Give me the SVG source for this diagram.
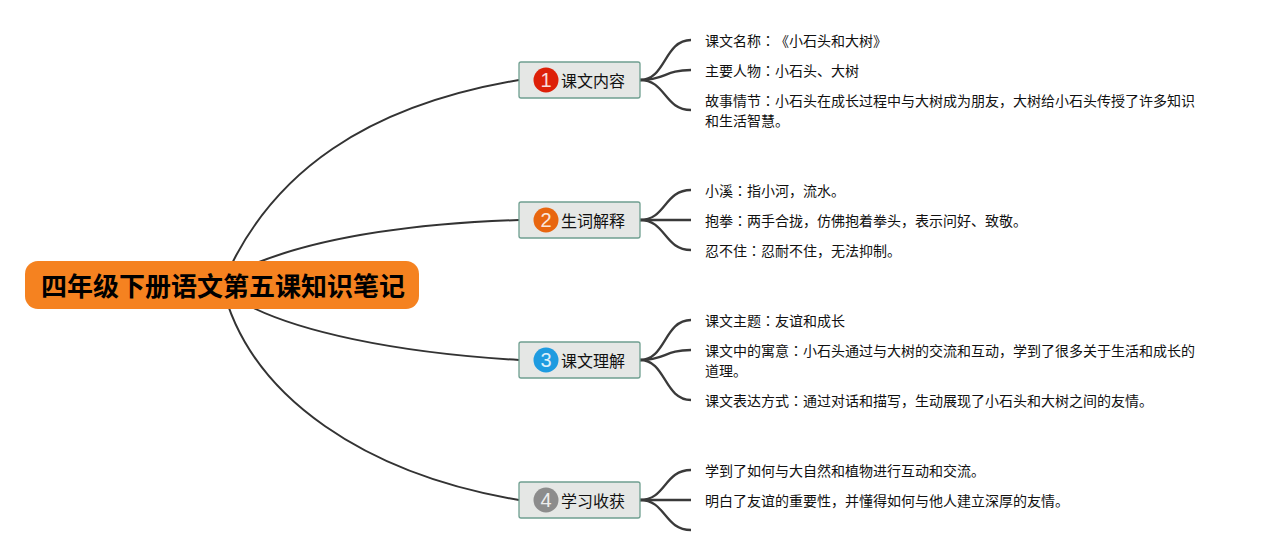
<svg xmlns="http://www.w3.org/2000/svg" width="1265" height="555" viewBox="0 0 1265 555">
<style>
text{font-family:"Noto Sans CJK SC","Liberation Sans",sans-serif;fill:#111;text-spacing-trim:space-all;font-feature-settings:"chws" 0}
.leaf{font-size:14px}
.lbl{font-size:16px}
.c{font-family:"Noto Sans CJK JP","Noto Sans CJK SC",sans-serif}
.num{font-family:"Liberation Sans",sans-serif;font-size:20px;fill:#fff;text-anchor:middle;opacity:.85}
.box{fill:#e5e7e5;stroke:#6f9f90;stroke-width:1.3}
.main{fill:none;stroke:#333;stroke-width:2}
.sub{fill:none;stroke:#3a3a3a;stroke-width:2.3}
</style>
<rect width="1265" height="555" fill="#fff"/>
<g id="connectors">
<path class="main" d="M222,285C270,170 370,105 519,80"/>
<path class="main" d="M240,270C305,240 400,224 519,220"/>
<path class="main" d="M235,298C290,332 400,353 519,360"/>
<path class="main" d="M222,285C250,400 370,475 519,500"/>
<path class="sub" d="M640,80C666,80 664,40 691,40"/>
<path class="sub" d="M640,80C666,80 664,70 691,70"/>
<path class="sub" d="M640,80C666,80 664,110 691,110"/>
<path class="sub" d="M640,220C666,220 664,190 691,190"/>
<path class="sub" d="M640,220C666,220 664,220 691,220"/>
<path class="sub" d="M640,220C666,220 664,250 691,250"/>
<path class="sub" d="M640,360C666,360 664,320 691,320"/>
<path class="sub" d="M640,360C666,360 664,350 691,350"/>
<path class="sub" d="M640,360C666,360 664,400 691,400"/>
<path class="sub" d="M640,500C666,500 664,470 691,470"/>
<path class="sub" d="M640,500C666,500 664,500 691,500"/>
<path class="sub" d="M640,500C666,500 664,530 691,530"/>
</g>
<g id="root">
<rect x="25" y="261" width="394" height="48" rx="13" fill="#f58220"/>
<text x="41" y="296" font-size="26" font-weight="700" style="fill:#000">四年级下册语文第五课知识笔记</text>
</g>
<g id="n1">
<rect class="box" x="519" y="62" width="121" height="36" rx="2"/>
<circle cx="546" cy="80" r="12.5" fill="#dd2008"/>
<text class="num" x="546" y="87">1</text>
<text class="lbl" x="561" y="87">课文内容</text>
</g>
<g id="n2">
<rect class="box" x="519" y="202" width="121" height="36" rx="2"/>
<circle cx="546" cy="220" r="12.5" fill="#e8660f"/>
<text class="num" x="546" y="227">2</text>
<text class="lbl" x="561" y="227">生词解释</text>
</g>
<g id="n3">
<rect class="box" x="519" y="342" width="121" height="36" rx="2"/>
<circle cx="546" cy="360" r="12.5" fill="#1e9be0"/>
<text class="num" x="546" y="367">3</text>
<text class="lbl" x="561" y="367">课文理解</text>
</g>
<g id="n4">
<rect class="box" x="519" y="482" width="121" height="36" rx="2"/>
<circle cx="546" cy="500" r="12.5" fill="#8c8c8c"/>
<text class="num" x="546" y="507">4</text>
<text class="lbl" x="561" y="507">学习收获</text>
</g>
<g id="l11"><text class="leaf" x="705" y="46">课文名称<tspan class="c">：</tspan>《小石头和大树》</text></g>
<g id="l12"><text class="leaf" x="705" y="76">主要人物<tspan class="c">：</tspan>小石头、大树</text></g>
<g id="l13"><text class="leaf" x="705" y="106">故事情节<tspan class="c">：</tspan>小石头在成长过程中与大树成为朋友，大树给小石头传授了许多知识</text><text class="leaf" x="705" y="126">和生活智慧。</text></g>
<g id="l21"><text class="leaf" x="705" y="196">小溪<tspan class="c">：</tspan>指小河，流水。</text></g>
<g id="l22"><text class="leaf" x="705" y="226">抱拳<tspan class="c">：</tspan>两手合拢，仿佛抱着拳头，表示问好、致敬。</text></g>
<g id="l23"><text class="leaf" x="705" y="256">忍不住<tspan class="c">：</tspan>忍耐不住，无法抑制。</text></g>
<g id="l31"><text class="leaf" x="705" y="326">课文主题<tspan class="c">：</tspan>友谊和成长</text></g>
<g id="l32"><text class="leaf" x="705" y="356">课文中的寓意<tspan class="c">：</tspan>小石头通过与大树的交流和互动，学到了很多关于生活和成长的</text><text class="leaf" x="705" y="376">道理。</text></g>
<g id="l33"><text class="leaf" x="705" y="406">课文表达方式<tspan class="c">：</tspan>通过对话和描写，生动展现了小石头和大树之间的友情。</text></g>
<g id="l41"><text class="leaf" x="705" y="476">学到了如何与大自然和植物进行互动和交流。</text></g>
<g id="l42"><text class="leaf" x="705" y="506">明白了友谊的重要性，并懂得如何与他人建立深厚的友情。</text></g>
</svg>
